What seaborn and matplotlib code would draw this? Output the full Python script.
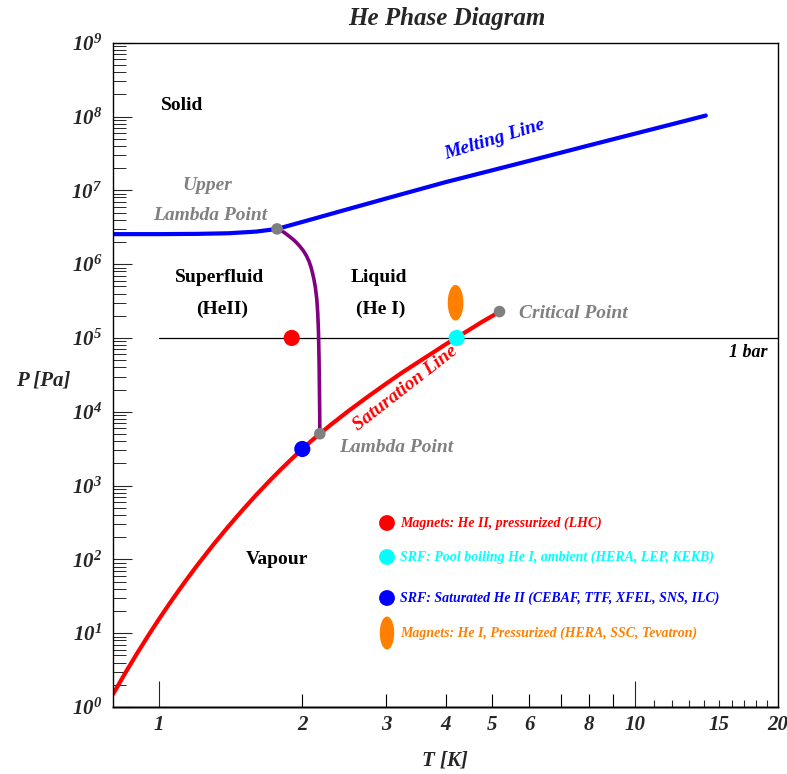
import numpy as np
import matplotlib
matplotlib.use("Agg")
import matplotlib.pyplot as plt
import seaborn as sns
from matplotlib.path import Path
from matplotlib.ticker import FixedLocator, FixedFormatter, NullFormatter, NullLocator, FuncFormatter

# ---------------- data ----------------
sat_T = [0.8, 0.85, 0.9, 0.95, 1.0, 1.05, 1.1, 1.15, 1.2, 1.3, 1.4, 1.5, 1.6, 1.7, 1.8, 1.9, 2.0, 2.1, 2.177,
         2.3, 2.5, 2.75, 3.0, 3.25, 3.5, 3.75, 4.0, 4.222, 4.5, 4.75, 5.0, 5.195]
sat_P = [1.49, 2.93, 5.4, 9.4, 15.6, 24.8, 38.0, 56.4, 81.7, 158, 282, 471, 746, 1128, 1638, 2299, 3130, 4141, 5042,
         6730, 10240, 16100, 24000, 34300, 46800, 62300, 81600, 101325, 130300, 162000, 196000, 227500]

melt_T = [0.8, 1.0, 1.2, 1.4, 1.6, 1.77, 2.0, 2.5, 3.0, 4.0, 5.0, 6.0, 8.0, 10.0, 12.0, 14.1]
melt_P = [2.55e6, 2.55e6, 2.57e6, 2.62e6, 2.76e6, 3.0e6, 3.73e6, 5.58e6, 7.74e6, 1.29e7,
          1.86e7, 2.51e7, 4.05e7, 5.85e7, 7.89e7, 1.03e8]

lambda_T = [1.77, 1.80, 1.83, 1.86, 1.89, 1.92, 1.95, 1.98, 2.01, 2.04, 2.065, 2.085, 2.10, 2.115,
            2.13, 2.145, 2.155, 2.163, 2.169, 2.173, 2.176, 2.177]
lambda_P = [3.0e6, 2.85e6, 2.7e6, 2.5e6, 2.3e6, 2.12e6, 1.92e6, 1.72e6, 1.52e6, 1.3e6, 1.1e6, 9.2e5,
            7.7e5, 6.3e5, 4.9e5, 3.4e5, 2.2e5, 1.2e5, 5.0e4, 2.0e4, 9.0e3, 5.04e3]

bar_T = [1.0, 20.0]
bar_P = [1e5, 1e5]

special_T = [1.77, 2.177, 5.195]          # upper lambda, lambda, critical
special_P = [3.0e6, 5.04e3, 2.275e5]

lhc_T, lhc_P = [1.9], [1e5]
pool_T, pool_P = [4.222], [1e5]
satHeII_T, satHeII_P = [2.0], [3130]
pressHeI_T, pressHeI_P = [4.2], [3.0e5]

x_tick_vals = [1, 2, 3, 4, 5, 6, 8, 10, 15, 20]
x_tick_labels = ["1", "2", "3", "4", "5", "6", "8", "10", "15", "20"]
y_decades = list(range(0, 10))

legend_labels = ["Magnets: He II, pressurized (LHC)",
                 "SRF: Pool boiling He I, ambient (HERA, LEP, KEKB)",
                 "SRF: Saturated He II (CEBAF, TTF, XFEL, SNS, ILC)",
                 "Magnets: He I, Pressurized (HERA, SSC, Tevatron)"]

RED, CYAN, BLUE, ORANGE = "#ff0000", "#00ffff", "#0000ff", "#ff8000"
GREY, PURPLE = "#808080", "#800080"

# ---------------- style ----------------
sns.set_style("ticks")
plt.rcParams.update({
    "font.family": ["Liberation Serif", "DejaVu Serif"],
    "font.style": "italic",
    "font.weight": "bold",
    "mathtext.fontset": "custom",
    "mathtext.rm": "Liberation Serif:italic:bold",
    "mathtext.it": "Liberation Serif:italic:bold",
    "mathtext.bf": "Liberation Serif:italic:bold",
    "axes.linewidth": 1.0,
    "axes.edgecolor": "black",
})

W, H = 787, 774
fig = plt.figure(figsize=(W / 100, H / 100), dpi=100)
L, R, T_, B = 113, 778, 42.7, 707
ax = fig.add_axes([L / W, (H - B) / H, (R - L) / W, (B - T_) / H])
ax.set_xscale("log")
ax.set_yscale("log")
ax.set_xlim(0.8, 20)
ax.set_ylim(1, 1e9)


def axp(x, y):
    return ((x - L) / (R - L), (B - y) / (B - T_))


# lines
sns.lineplot(x=bar_T, y=bar_P, color="black", lw=0.9, ax=ax, sort=False, estimator=None, zorder=1)
sns.lineplot(x=sat_T, y=sat_P, color=RED, lw=3.0, ax=ax, sort=False, estimator=None, zorder=2)
sns.lineplot(x=melt_T, y=melt_P, color=BLUE, lw=3.0, ax=ax, sort=False, estimator=None, zorder=2)
sns.lineplot(x=lambda_T, y=lambda_P, color=PURPLE, lw=2.6, ax=ax, sort=False, estimator=None, zorder=2)

# points
t = np.linspace(0, 2 * np.pi, 60)
ell = Path(np.column_stack([0.44 * np.cos(t), np.sin(t)]))
sns.scatterplot(x=lhc_T, y=lhc_P, s=135, color=RED, edgecolor="none", ax=ax, zorder=4)
sns.scatterplot(x=pool_T, y=pool_P, s=135, color=CYAN, edgecolor="none", ax=ax, zorder=4)
sns.scatterplot(x=satHeII_T, y=satHeII_P, s=135, color=BLUE, edgecolor="none", ax=ax, zorder=3)
sns.scatterplot(x=pressHeI_T, y=pressHeI_P, s=660, marker=ell, color=ORANGE, edgecolor="none", ax=ax, zorder=4)
sns.scatterplot(x=special_T, y=special_P, s=70, color=GREY, edgecolor="none", ax=ax, zorder=5)

# ticks - x
ax.xaxis.remove_overlapping_locs = False
ax.xaxis.set_major_locator(FixedLocator(x_tick_vals))
ax.xaxis.set_major_formatter(FixedFormatter(x_tick_labels))
ax.xaxis.set_minor_locator(FixedLocator([2, 3, 4, 5, 6, 7, 8, 9]))
ax.xaxis.set_minor_formatter(NullFormatter())
ax.tick_params(axis="x", which="major", length=0, pad=6, labelsize=15)
ax.tick_params(axis="x", which="minor", direction="in", length=9.4, width=0.8, color="black")

sec1 = ax.secondary_xaxis("bottom")
sec1.xaxis.set_major_locator(FixedLocator([1, 10]))
sec1.xaxis.set_major_formatter(NullFormatter())
sec1.xaxis.set_minor_locator(NullLocator())
sec1.tick_params(axis="x", which="major", direction="in", length=18.7, width=0.8, labelbottom=False)

sec2 = ax.secondary_xaxis("bottom")
sec2.xaxis.set_major_locator(FixedLocator([11, 12, 13, 14, 15, 16, 17, 18, 19]))
sec2.xaxis.set_major_formatter(NullFormatter())
sec2.xaxis.set_minor_locator(NullLocator())
sec2.tick_params(axis="x", which="major", direction="in", length=5.0, width=0.8, labelbottom=False)

# ticks - y
ax.yaxis.set_major_locator(FixedLocator([10.0 ** k for k in y_decades]))
ax.yaxis.set_major_formatter(FuncFormatter(lambda v, p: r"$10^{%d}$" % int(round(np.log10(v)))))
minors = [m * 10.0 ** k for k in y_decades[:-1] for m in range(2, 10)]
ax.yaxis.set_minor_locator(FixedLocator(minors))
ax.yaxis.set_minor_formatter(NullFormatter())
ax.tick_params(axis="y", which="major", direction="in", length=14, width=0.8, pad=8, labelsize=15)
ax.tick_params(axis="y", which="minor", direction="in", length=9, width=0.7)

# region labels
reg = dict(fontsize=14, fontweight="bold", fontstyle="normal", color="black",
           ha="center", va="center", transform=ax.transAxes)
ax.text(*axp(182, 105), "Solid", **reg)
ax.text(*axp(220, 278), "Superfluid", **reg)
ax.text(*axp(222, 309), "(HeII)", **reg)
ax.text(*axp(379, 277), "Liquid", **reg)
ax.text(*axp(381, 309), "(He I)", **reg)
ax.text(*axp(277, 560), "Vapour", **reg)

gk = dict(fontsize=14, color=GREY, va="center", transform=ax.transAxes)
ax.text(*axp(207, 186), "Upper", ha="center", **gk)
ax.text(*axp(210, 216), "Lambda Point", ha="center", **gk)
ax.text(*axp(519, 313), "Critical Point", ha="left", **gk)
ax.text(*axp(339, 447), "Lambda Point", ha="left", **gk)

ax.text(*axp(748, 353), "1 bar", fontsize=13, color="black", ha="center", va="center", transform=ax.transAxes)
ax.text(*axp(405, 388), "Saturation Line", fontsize=14, color=RED, rotation=38,
        ha="center", va="center", rotation_mode="anchor", transform=ax.transAxes)
ax.text(*axp(495, 140), "Melting Line", fontsize=14, color=BLUE, rotation=17,
        ha="center", va="center", rotation_mode="anchor", transform=ax.transAxes)

# legend (manual)
leg_y = [523, 557, 598, 633]
leg_c = [RED, CYAN, BLUE, ORANGE]
for i, (yy, cc, lab) in enumerate(zip(leg_y, leg_c, legend_labels)):
    if i == 3:
        ax.scatter(*axp(387, yy), s=560, marker=ell, color=cc, edgecolor="none",
                   transform=ax.transAxes, clip_on=False, zorder=4)
    else:
        ax.scatter(*axp(387, yy), s=130, color=cc, edgecolor="none",
                   transform=ax.transAxes, clip_on=False, zorder=4)
    ax.text(*axp(400, yy), lab, fontsize=10, color=cc, ha="left", va="center", transform=ax.transAxes)

ax.set_xlabel("")
ax.set_ylabel("")
for s in ax.spines.values():
    s.set_visible(True)

fig.text(447 / W, 1 - 18 / H, "He Phase Diagram", fontsize=18, ha="center", va="center")
fig.text(445 / W, 1 - 760 / H, "T [K]", fontsize=15, ha="center", va="center")
fig.text(43 / W, 1 - 380 / H, "P [Pa]", fontsize=15, ha="center", va="center")

fig.savefig("out.png", dpi=100)
